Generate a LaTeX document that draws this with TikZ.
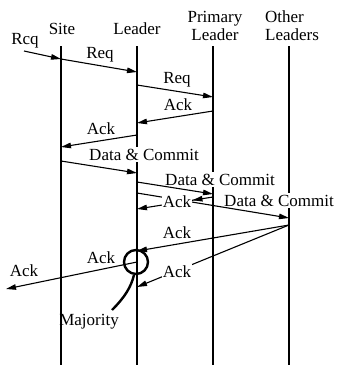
\documentclass[tikz,border=0pt]{standalone}
\usepackage{fontspec}
\setmainfont{Liberation Serif}
\usetikzlibrary{arrows.meta,decorations.markings}
\begin{document}
\begin{tikzpicture}[x=1pt,y=-1pt,
  lifeline/.style={line width=1.1pt},
  msg/.style={line width=1.1pt,-{Triangle[length=10pt,width=5.5pt]}},
  txt/.style={font=\fontsize{17}{18}\selectfont,inner sep=0pt,anchor=base},
  mask/.style={txt,fill=white,inner xsep=1pt,inner ysep=1.5pt},
  heavy/.style={line width=2.4pt}]
\useasboundingbox (0,0) rectangle (339,365);
% headers
\node[txt] (hsite) at (62,34) {Site};
\node[txt] (hlead) at (137,34) {Leader};
\node[txt] (hprim1) at (215,22) {Primary};
\node[txt] (hprim2) at (215,40) {Leader};
\node[txt,anchor=base west] (hoth1) at (265,22) {Other};
\node[txt,anchor=base west] (hoth2) at (265,40) {Leaders};
% lifelines
\coordinate (siteT) at (61,46);  \coordinate (siteB) at (61,365);
\coordinate (leadT) at (137,46); \coordinate (leadB) at (137,365);
\coordinate (primT) at (213,46); \coordinate (primB) at (213,365);
\coordinate (othT) at (289,46);  \coordinate (othB) at (289,365);
\draw[lifeline] (siteT) -- (siteB);
\draw[lifeline] (leadT) -- (leadB);
\draw[lifeline] (primT) -- (primB);
\draw[lifeline] (othT) -- (othB);
% labels that cover the lifelines
\node[mask] (tDC1) at (144,160) {Data \& Commit};
\node[mask] (tDC2) at (220,185) {Data \& Commit};
\node[mask] (tDC3) at (279,206) {Data \& Commit};
% message points
\coordinate (c0) at (24,51);
\coordinate (s1) at (61,59);   \coordinate (l1) at (137,72);
\coordinate (l2) at (137,85);  \coordinate (p2) at (213,97);
\coordinate (p3) at (213,111); \coordinate (l3) at (137,123);
\coordinate (l4) at (137,135); \coordinate (s4) at (61,147);
\coordinate (s5) at (61,161);  \coordinate (l5) at (137,173);
\coordinate (l6) at (137,182); \coordinate (p6) at (213,194);
\coordinate (l7) at (137,193); \coordinate (o7) at (289,218);
\coordinate (p8) at (213,197); \coordinate (l8) at (137,209);
\coordinate (o9) at (289,225); \coordinate (l9) at (137,251);
\coordinate (l10) at (137,287);
\coordinate (l11) at (137,262); \coordinate (far) at (6,289);
% messages
\draw[msg] (c0) -- (s1);
\node[txt] (tRcq) at (25,44) {Rcq};
\draw[msg] (s1) -- (l1);
\node[txt] (tReq1) at (100,58) {Req};
\draw[msg] (l2) -- (p2);
\node[txt] (tReq2) at (177,83) {Req};
\draw[msg] (p3) -- (l3);
\node[txt] (tAck1) at (178,110) {Ack};
\draw[msg] (l4) -- (s4);
\node[txt] (tAck2) at (101,134) {Ack};
\draw[msg] (s5) -- (l5);
\draw[msg] (l6) -- (p6);
\draw[msg] (l7) -- (o7);
\draw[msg,postaction={decorate},decoration={markings,
  mark=at position 0.27 with {\arrow{Triangle[length=10pt,width=5.5pt]}}}] (p8) -- (l8);
\node[mask] (tAck3) at (177,207) {Ack};
\draw[msg] (o9) -- (l9);
\node[txt] (tAck4) at (177,238) {Ack};
\draw[msg] (o9) -- (l10);
\node[mask] (tAck5) at (177,277) {Ack};
\draw[msg] (l11) -- (far);
\node[txt] (tAck6) at (101,263) {Ack};
\node[txt] (tAck7) at (24,276) {Ack};
% majority
\draw[heavy] (136,262) circle (12);
\node[txt] (tMaj) at (89,325) {Majority};
\draw[heavy] (112,310) .. controls (125,297) and (131,287) .. (134,275);
\end{tikzpicture}
\end{document}
